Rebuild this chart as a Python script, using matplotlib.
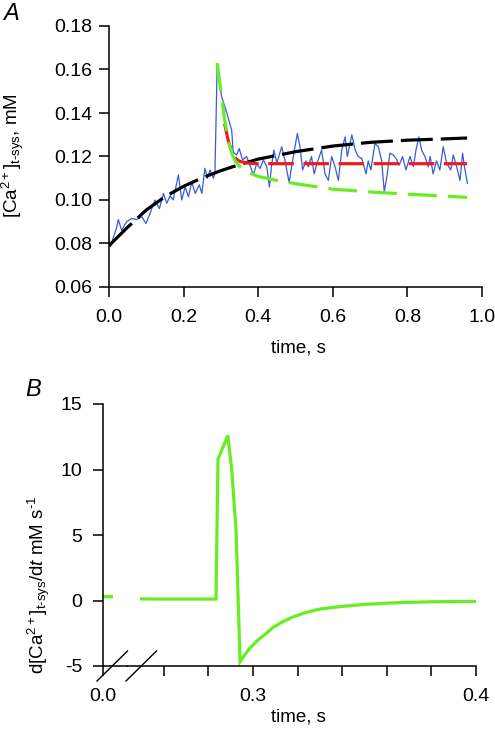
import matplotlib
matplotlib.use("Agg")
import matplotlib.pyplot as plt
from matplotlib.lines import Line2D
import numpy as np

plt.rcParams['font.family'] = ['Liberation Sans', 'DejaVu Sans']
plt.rcParams['mathtext.fontset'] = 'custom'
plt.rcParams['mathtext.rm'] = 'Liberation Sans'
plt.rcParams['mathtext.it'] = 'Liberation Sans:italic'
plt.rcParams['mathtext.default'] = 'regular'

# ---------------- Panel A data ----------------
blue_t = [0.0, 0.001, 0.004, 0.012, 0.02, 0.025, 0.034, 0.047, 0.061, 0.074, 0.088, 0.099,
          0.11, 0.123, 0.135, 0.146, 0.155, 0.164, 0.172, 0.186, 0.195, 0.204, 0.213,
          0.222, 0.231, 0.242, 0.249, 0.257, 0.264, 0.271, 0.28, 0.284, 0.29, 0.293,
          0.302, 0.316, 0.329, 0.333, 0.342, 0.349, 0.358, 0.369, 0.378, 0.387, 0.396,
          0.405, 0.414, 0.423, 0.43, 0.436, 0.442, 0.45, 0.463, 0.472, 0.483, 0.492,
          0.505, 0.512, 0.519, 0.528, 0.534, 0.543, 0.55, 0.558, 0.57, 0.579, 0.588,
          0.597, 0.606, 0.615, 0.624, 0.633, 0.639, 0.651, 0.66, 0.668, 0.678, 0.689,
          0.695, 0.702, 0.713, 0.722, 0.731, 0.738, 0.745, 0.753, 0.762, 0.770, 0.778,
          0.787, 0.796, 0.807, 0.816, 0.823, 0.831, 0.838, 0.847, 0.856, 0.861, 0.869,
          0.878, 0.887, 0.896, 0.905, 0.916, 0.923, 0.932, 0.941, 0.948, 0.953, 0.961]
blue_v = [0.083, 0.080, 0.0785, 0.083, 0.087, 0.091, 0.086, 0.090, 0.0915, 0.091, 0.0923, 0.0892,
          0.0938, 0.100, 0.096, 0.103, 0.0985, 0.102, 0.100, 0.1115, 0.100, 0.106, 0.1015,
          0.1084, 0.103, 0.107, 0.103, 0.1146, 0.110, 0.1138, 0.110, 0.1124, 0.162, 0.159,
          0.1475, 0.140, 0.132, 0.122, 0.1207, 0.1237, 0.1184, 0.120, 0.116, 0.1115, 0.1168,
          0.1145, 0.1184, 0.1153, 0.106, 0.116, 0.123, 0.117, 0.1245, 0.118, 0.108, 0.118,
          0.1306, 0.1245, 0.1138, 0.118, 0.1153, 0.120, 0.112, 0.117, 0.123, 0.112, 0.109,
          0.120, 0.1153, 0.109, 0.123, 0.129, 0.120, 0.130, 0.123, 0.120, 0.119, 0.112,
          0.118, 0.1138, 0.126, 0.1245, 0.118, 0.1038, 0.1107, 0.1215, 0.1207, 0.119, 0.116,
          0.120, 0.1138, 0.120, 0.1153, 0.123, 0.129, 0.123, 0.120, 0.1153, 0.120, 0.112,
          0.118, 0.1138, 0.1245, 0.117, 0.1138, 0.1207, 0.1153, 0.109, 0.1215, 0.1153, 0.1076]

black_t = [0.0, 0.05, 0.1, 0.15, 0.2, 0.25, 0.3, 0.35, 0.4, 0.5, 0.6, 0.7, 0.8, 0.9, 0.96]
black_v = [0.079, 0.0875, 0.0954, 0.1015, 0.1063, 0.1102, 0.1135, 0.1163, 0.1188, 0.1222,
           0.1248, 0.1265, 0.1275, 0.1281, 0.1285]

green_t = [0.29, 0.30, 0.31, 0.32, 0.33, 0.34, 0.35, 0.37, 0.40, 0.45, 0.5, 0.6, 0.7, 0.8, 0.9, 0.96]
green_v = [0.163, 0.150, 0.137, 0.127, 0.121, 0.1175, 0.1155, 0.1128, 0.1108, 0.109, 0.1075,
           0.105, 0.1037, 0.1027, 0.1018, 0.1012]

red_t = [0.31, 0.32, 0.33, 0.34, 0.35, 0.37, 0.40, 0.5, 0.6, 0.7, 0.8, 0.9, 0.96]
red_v = [0.135, 0.127, 0.122, 0.119, 0.1178, 0.117, 0.1167, 0.1167, 0.1167, 0.1167, 0.1167,
         0.1167, 0.1167]

# ---------------- Panel B data ----------------
b1_t = [0.0, 0.0045]
b1_v = [0.3, 0.29]
b2_t = [0.25, 0.26, 0.27, 0.2834, 0.2843, 0.2870, 0.2887, 0.2904, 0.2924, 0.2942,
        0.298, 0.302, 0.306, 0.309, 0.313, 0.318, 0.324, 0.330, 0.340, 0.350, 0.360,
        0.370, 0.380, 0.390, 0.400]
b2_v = [0.12, 0.11, 0.11, 0.11, 10.8, 11.9, 12.6, 10.1, 5.4, -4.67,
        -3.75, -3.05, -2.5, -2.05, -1.65, -1.25, -0.9, -0.65, -0.45, -0.3, -0.2,
        -0.14, -0.1, -0.08, -0.07]

BLUE = '#3a5bd9'
GREEN = '#66ee22'
RED = '#ee1c1c'

W, H = 495, 735
fig = plt.figure(figsize=(W / 100, H / 100), dpi=100)

def fx(px):
    return px / W

def fy(py):
    return 1 - py / H

FS = 14
LFS = 13.5
tick_kw = dict(direction='out', length=7, width=1.1, labelsize=FS)

# ---------------- Panel A ----------------
axA = fig.add_axes([fx(109), fy(287), fx(482) - fx(109), fy(26) - fy(287)])
axA.plot(blue_t, blue_v, color=BLUE, lw=0.9, zorder=2)
axA.plot(black_t, black_v, color='black', lw=2.3, dashes=(10, 2.5), zorder=3)
axA.plot(red_t, red_v, color=RED, lw=2.3, dashes=(8, 3), zorder=4)
axA.plot(green_t, green_v, color=GREEN, lw=2.3, dashes=(9, 3.5), zorder=5)
axA.set_xlim(0, 1.0)
axA.set_ylim(0.06, 0.18)
axA.set_xticks([0.0, 0.2, 0.4, 0.6, 0.8, 1.0])
axA.set_xticklabels(['0.0', '0.2', '0.4', '0.6', '0.8', '1.0'])
axA.set_yticks([0.06, 0.08, 0.10, 0.12, 0.14, 0.16, 0.18])
axA.set_yticklabels(['0.06', '0.08', '0.10', '0.12', '0.14', '0.16', '0.18'])
for s in ['top', 'right']:
    axA.spines[s].set_visible(False)
for s in ['left', 'bottom']:
    axA.spines[s].set_linewidth(1.1)
axA.tick_params(axis='x', pad=9, **tick_kw)
axA.tick_params(axis='y', pad=5, **tick_kw)

fig.text(fx(298), fy(348), 'time, s', ha='center', va='center', fontsize=LFS)
fig.text(fx(13), fy(156), r'[Ca$^{2+}$]$_{\text{t-sys}}$, mM', rotation=90,
         ha='center', va='center', fontsize=LFS)
fig.text(fx(3), fy(13), 'A', fontsize=17, style='italic', ha='left', va='center')

# ---------------- Panel B ----------------
yB0, yB1 = 666, 404
axB1 = fig.add_axes([fx(103), fy(yB0), fx(127) - fx(103), fy(yB1) - fy(yB0)])
axB2 = fig.add_axes([fx(127), fy(yB0), fx(476) - fx(127), fy(yB1) - fy(yB0)])

axB1.plot(b1_t, b1_v, color=GREEN, lw=2.3, solid_capstyle='butt')
axB2.plot(b2_t, b2_v, color=GREEN, lw=2.3, solid_joinstyle='miter')
for ax in (axB1, axB2):
    ax.set_ylim(-5, 15)
    ax.spines['top'].set_visible(False)
    ax.spines['right'].set_visible(False)
    ax.spines['bottom'].set_linewidth(1.1)
    ax.spines['left'].set_linewidth(1.1)
    ax.patch.set_alpha(0)
axB1.set_xlim(0, 0.0108)
axB2.set_xlim(0.3 - (253 - 127) / 2230.0, 0.4)
axB1.set_xticks([0.0])
axB1.set_xticklabels(['0.0'])
axB1.set_yticks([-5, 0, 5, 10, 15])
axB1.set_yticklabels(['-5', '0', '5', '10', '15'])
axB1.tick_params(axis='x', pad=9, **tick_kw)
axB1.tick_params(axis='y', pad=8, **tick_kw)
axB2.spines['left'].set_visible(False)
axB2.set_yticks([])
xt = [0.26, 0.28, 0.30, 0.32, 0.34, 0.36, 0.38, 0.40]
axB2.set_xticks(xt)
axB2.set_xticklabels(['', '', '0.3', '', '', '', '', '0.4'])
axB2.tick_params(axis='x', pad=9, **tick_kw)

# axis break marks
for x0 in (97, 126):
    fig.add_artist(Line2D([fx(x0), fx(x0 + 30.5)], [fy(681), fy(651)], color='black', lw=1.0))

fig.text(fx(298), fy(717), 'time, s', ha='center', va='center', fontsize=LFS)
fig.text(fx(39), fy(585),
         r'd[Ca$^{2+}$]$_{\text{t-sys}}$/d$\mathit{t}$ mM s$^{\text{-1}}$',
         rotation=90, ha='center', va='center', fontsize=LFS)
fig.text(fx(25), fy(390), 'B', fontsize=17, style='italic', ha='left', va='center')

fig.savefig('out.png', dpi=100)
